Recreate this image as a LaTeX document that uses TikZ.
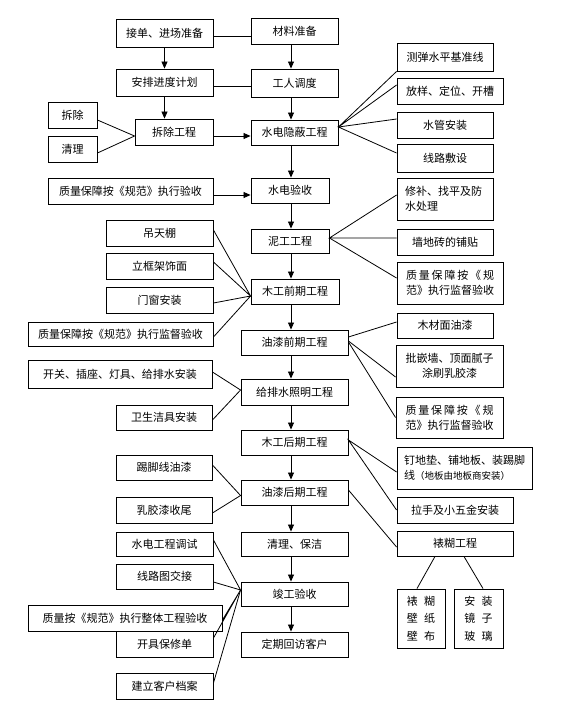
\documentclass[tikz,border=0pt]{standalone}
\usepackage{fontspec}
\newfontfamily\cjk{Noto Sans CJK SC}
\usetikzlibrary{arrows.meta,calc}
\tikzset{
 bx/.style={draw=black, line width=0.9pt, fill=white, inner sep=0pt, font=\cjk\fontsize{11}{15}\selectfont},
 ln/.style={line width=0.8pt},
 arr/.style={line width=0.8pt, -{Triangle[length=7pt,width=6pt]}},
}
\newcommand\bxnode[7][]{\node[bx, minimum width={(#5-#3)*1pt}, minimum height={(#6-#4)*1pt}, #1] (#2) at ({(#3+#5)/2},{(#4+#6)/2}) {#7};}
\newcommand\spr[2]{\makebox[#1][s]{#2}}
\newcommand\zlgui{\spr{88pt}{质\hfill 量\hfill 保\hfill 障\hfill 按\hfill 《\hfill 规}}
\begin{document}
\begin{tikzpicture}[x=1pt,y=-1pt]
\useasboundingbox (0,0) rectangle (578,705);
\fill[white] (0,0) rectangle (578,705);
\coordinate (spine) at (291,0);
% left column top
\bxnode{jd}{116}{19}{213}{47}{接单、进场准备}
\bxnode{ap}{116}{69}{213}{96}{安排进度计划}
\bxnode{chai}{48}{102}{97}{128}{拆除}
\bxnode{qingli}{48}{136}{97}{162}{清理}
\bxnode{cc}{135}{119}{213}{145}{拆除工程}
% central column
\bxnode{cl}{251}{18}{338}{44}{材料准备}
\bxnode{gr}{251}{69}{338}{97}{工人调度}
\bxnode{sd}{251}{120}{338}{145}{水电隐蔽工程}
\bxnode{sy}{251}{178}{329}{203}{水电验收}
\bxnode{ng}{251}{229}{329}{253}{泥工工程}
\bxnode{mq}{251}{279}{339}{304}{木工前期工程}
\bxnode{yq}{241}{330}{348}{355}{油漆前期工程}
\bxnode{gp}{241}{379}{348}{405}{给排水照明工程}
\bxnode{mh}{241}{430}{348}{455}{木工后期工程}
\bxnode{yh}{241}{480}{348}{505}{油漆后期工程}
\bxnode{ql}{241}{532}{348}{556}{清理、保洁}
\bxnode{jg}{241}{582}{348}{606}{竣工验收}
\bxnode{dq}{241}{632}{348}{657}{定期回访客户}
% right column
\bxnode{r1}{397}{43}{493}{71}{测弹水平基准线}
\bxnode{r2}{397}{78}{503}{104}{放样、定位、开槽}
\bxnode{r3}{397}{112}{493}{138}{水管安装}
\bxnode{r4}{397}{144}{493}{172}{线路敷设}
\bxnode[align=left]{r5}{397}{178}{493}{220}{\spr{80pt}{修补、找平及防}\\水处理}
\bxnode{r6}{397}{229}{493}{255}{墙地砖的铺贴}
\bxnode[align=left]{r7}{397}{262}{503}{304}{\zlgui\\范》执行监督验收}
\bxnode{r8}{397}{313}{493}{338}{木材面油漆}
\bxnode[align=center]{r9}{396}{345}{503}{387}{批嵌墙、顶面腻子\\涂刷乳胶漆}
\bxnode[align=left]{r10}{396}{397}{503}{438}{\zlgui\\范》执行监督验收}
\bxnode[align=left]{r11}{397}{447}{532}{489}{钉地垫、铺地板、装踢脚\\线{\fontsize{9.5}{12}\selectfont（地板由地板商安装）}}
\bxnode{r12}{397}{497}{513}{523}{拉手及小五金安装}
\bxnode{bh}{397}{531}{513}{556}{裱糊工程}
\bxnode[align=left, font=\cjk\fontsize{11}{17.5}\selectfont]{b1}{397}{589}{445}{648}{裱\hspace{0.55em}糊\\壁\hspace{0.55em}纸\\壁\hspace{0.55em}布}
\bxnode[align=left, font=\cjk\fontsize{11}{17.5}\selectfont]{b2}{454}{589}{503}{648}{安\hspace{0.55em}装\\镜\hspace{0.55em}子\\玻\hspace{0.55em}璃}
% left boxes
\bxnode{zl1}{48}{178}{213}{204}{质量保障按《规范》执行验收}
\bxnode{l1}{106}{220}{213}{246}{吊天棚}
\bxnode{l2}{106}{253}{213}{279}{立框架饰面}
\bxnode{l3}{106}{287}{213}{313}{门窗安装}
\bxnode{l4}{28}{322}{213}{346}{质量保障按《规范》执行监督验收}
\bxnode{l5}{28}{360}{212}{388}{开关、插座、灯具、给排水安装}
\bxnode{l6}{116}{405}{212}{430}{卫生洁具安装}
\bxnode{l7}{116}{455}{212}{480}{踢脚线油漆}
\bxnode{l8}{116}{497}{212}{523}{乳胶漆收尾}
\bxnode{l9}{116}{532}{213}{556}{水电工程调试}
\bxnode{l10}{116}{564}{213}{589}{线路图交接}
\bxnode{l12}{116}{631}{213}{657}{开具保修单}
\bxnode{l11}{28}{605}{222}{631}{质量按《规范》执行整体工程验收}
\bxnode{l13}{116}{673}{213}{699}{建立客户档案}
% connectors top-left
\draw[ln] ($(jd.east)+(0,3)$) -- ($(cl.west)+(0,5)$);
\draw[ln] ($(ap.east)+(0,3.5)$) -- ($(gr.west)+(0,3)$);
\draw[arr] (jd.south) -- (ap.north);
\draw[arr] (ap.south) -- (ap.south |- cc.north);
\draw[arr] ($(cc.east)+(0,4)$) -- ($(sd.west)+(0,3.5)$);
\draw[ln] ($(chai.east)+(0,5)$) -- ($(cc.west)+(0,4)$) -- ($(qingli.east)+(0,4)$);
% spine arrows
\foreach \a/\b in {cl/gr,gr/sd,sd/sy,sy/ng,ng/mq,mq/yq,yq/gp,gp/mh,mh/yh,yh/ql,ql/jg,jg/dq}
  \draw[arr] (\a.south -| spine) -- (\b.north -| spine);
% shui dian
\draw[ln] (r1.south west) -- ($(sd.east)+(0,-5.5)$) -- ($(r2.west)+(0,-6)$);
\draw[ln] ($(r3.west)+(0,-6)$) -- ($(sd.east)+(0,-5.5)$) -- ($(r4.west)+(0,-5)$);
\draw[arr] ($(zl1.east)+(0,4)$) -- ($(sy.west)+(0,4.5)$);
% ni gong
\draw[ln] ($(r5.west)+(0,-4)$) -- ($(ng.east)+(0,-3)$) -- ($(r6.west)+(0,-4)$);
\draw[ln] ($(ng.east)+(0,-3)$) -- ($(r7.west)+(0,-5)$);
% mu gong qian
\draw[ln] ($(l1.east)+(0,-3)$) -- ($(mq.west)+(0,4.5)$) -- ($(l2.east)+(0,-4)$);
\draw[ln] ($(l3.east)+(0,3)$) -- ($(mq.west)+(0,4.5)$) -- ($(l4.east)+(0,3)$);
% you qi qian
\draw[ln] ($(yq.east)+(0,-5.5)$) -- ($(r8.west)+(0,-3.5)$);
\draw[ln] ($(yq.east)+(0,-1.5)$) -- ($(r9.west)+(0,11)$);
\draw[ln] ($(yq.east)+(0,-0.5)$) -- (r10.west);
% gei pai shui
\draw[ln] ($(l5.east)+(0,-2)$) -- ($(gp.west)+(0,-2)$) -- ($(l6.east)+(0,2.5)$);
% mu gong hou
\draw[ln] ($(r11.west)+(0,4)$) -- ($(mh.east)+(0,-2.5)$) -- (r12.west);
% you qi hou
\draw[ln] ($(l7.east)+(0,-2.5)$) -- ($(yh.west)+(0,3)$) -- ($(l8.east)+(0,3)$);
\draw[ln] ($(yh.east)+(0,-2.5)$) -- ($(bh.west)+(0,3.5)$);
% jun gong
\draw[ln] ($(l9.east)+(0,-4)$) -- ($(jg.west)+(0,-4)$) -- ($(l10.east)+(0,5.5)$);
\draw[ln] ($(l11.east)+(0,2)$) -- ($(jg.west)+(0,-4)$) -- ($(l12.east)+(0,-6)$);
\draw[ln] ($(l13.east)+(0,-3)$) -- ($(jg.west)+(0,-4)$);
% biao hu
\draw[ln] ($(bh.south)+(-20,0)$) -- ($(b1.north)+(-4,0)$);
\draw[ln] ($(bh.south)+(9,0)$) -- ($(b2.north)+(4.5,0)$);
\end{tikzpicture}
\end{document}
